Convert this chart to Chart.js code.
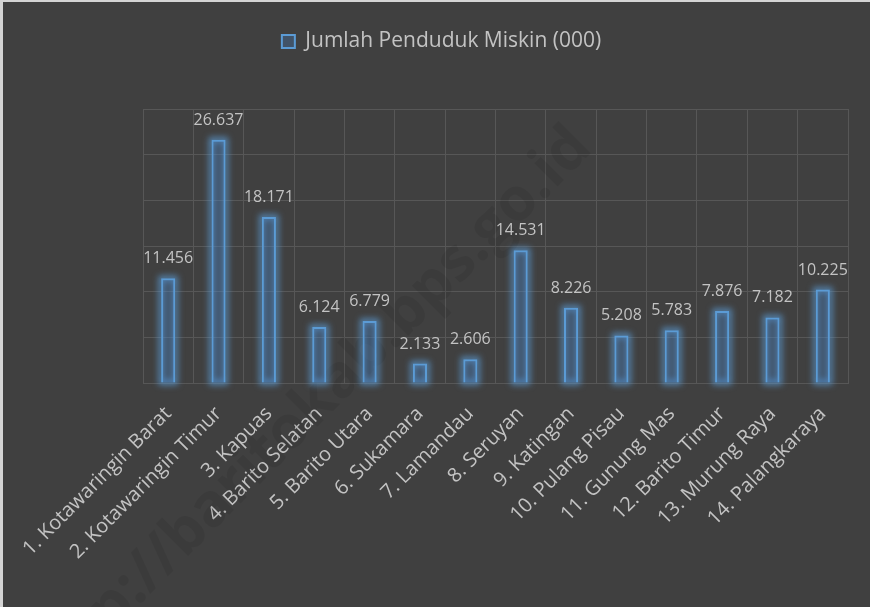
<!DOCTYPE html>
<html>
<head>
<meta charset="utf-8">
<script src="https://cdn.jsdelivr.net/npm/chart.js@4.4.1/dist/chart.umd.min.js"></script>
<style>
  html, body { margin: 0; padding: 0; background: #404040; }
  #wrap { width: 870px; height: 607px; position: relative; }
</style>
</head>
<body>
<div id="wrap"><canvas id="c" width="870" height="607"></canvas></div>
<script>
const categories = [
  "1. Kotawaringin Barat", "2. Kotawaringin Timur", "3. Kapuas", "4. Barito Selatan",
  "5. Barito Utara", "6. Sukamara", "7. Lamandau", "8. Seruyan", "9. Katingan",
  "10. Pulang Pisau", "11. Gunung Mas", "12. Barito Timur", "13. Murung Raya", "14. Palangkaraya"
];
const seriesName = "Jumlah Penduduk Miskin (000)";
const values = [11.456, 26.637, 18.171, 6.124, 6.779, 2.133, 2.606, 14.531, 8.226, 5.208, 5.783, 7.876, 7.182, 10.225];
const yTicks = [0, 5, 10, 15, 20, 25, 30];
const watermark = "http://baritokab.bps.go.id";

const FONT = "'Segoe UI', 'Open Sans', 'Noto Sans', sans-serif";
const TEXT = "#c3c3c3";
const GRID = "#575757";

const bgPlugin = {
  id: 'bg',
  beforeDraw(chart) {
    const ctx = chart.ctx;
    ctx.save();
    ctx.fillStyle = '#404040';
    ctx.fillRect(0, 0, chart.width, chart.height);
    ctx.fillStyle = '#d4d4d4';
    ctx.fillRect(0, 0, chart.width, 2);
    ctx.fillRect(0, 0, 3, chart.height);
    ctx.restore();
  }
};

const watermarkPlugin = {
  id: 'watermark',
  beforeDatasetsDraw(chart) {
    const ctx = chart.ctx;
    ctx.save();
    ctx.translate(594, 150);
    ctx.rotate(-Math.PI / 4);
    ctx.font = "bold 60px " + FONT;
    ctx.fillStyle = 'rgba(0,0,0,0.075)';
    ctx.textAlign = 'right';
    ctx.textBaseline = 'alphabetic';
    ctx.fillText(watermark, 0, 0);
    ctx.restore();
  }
};

const glowPlugin = {
  id: 'glow',
  beforeDatasetsDraw(chart) {
    const ctx = chart.ctx;
    const meta = chart.getDatasetMeta(0);
    ctx.save();
    ctx.filter = 'blur(3px)';
    ctx.strokeStyle = 'rgba(91,155,213,0.8)';
    ctx.lineWidth = 5;
    meta.data.forEach((el) => {
      const w = el.width;
      ctx.strokeRect(el.x - w / 2, el.y, w, el.base - el.y);
    });
    ctx.restore();
  }
};

const labelPlugin = {
  id: 'valueLabels',
  afterDatasetsDraw(chart) {
    const ctx = chart.ctx;
    const meta = chart.getDatasetMeta(0);
    ctx.save();
    ctx.font = "16px " + FONT;
    ctx.fillStyle = TEXT;
    ctx.textAlign = 'center';
    ctx.textBaseline = 'alphabetic';
    meta.data.forEach((el, i) => {
      ctx.fillText(values[i].toFixed(3), el.x, el.y - 15);
    });
    ctx.restore();
  }
};

new Chart(document.getElementById('c'), {
  type: 'bar',
  data: {
    labels: categories,
    datasets: [{
      label: seriesName,
      data: values,
      backgroundColor: 'rgba(70,130,200,0.30)',
      borderColor: '#5b9bd5',
      borderWidth: 2,
      barPercentage: 1.0,
      categoryPercentage: 0.28
    }]
  },
  options: {
    responsive: false,
    animation: false,
    devicePixelRatio: 1,
    layout: { padding: { top: 11, left: 35, right: 22, bottom: 0 } },
    plugins: {
      legend: {
        display: true,
        position: 'top',
        labels: {
          color: TEXT,
          font: { family: FONT, size: 21 },
          boxWidth: 13,
          boxHeight: 13,
          padding: 20
        }
      },
      title: {
        display: true,
        text: '',
        weight: 500,
        font: { size: 10 },
        padding: { top: 0, bottom: 35 }
      },
      tooltip: { enabled: false }
    },
    scales: {
      x: {
        grid: { color: GRID, lineWidth: 1, offset: true, drawTicks: false },
        border: { display: true, color: GRID, width: 1 },
        ticks: {
          color: TEXT,
          font: { family: FONT, size: 20 },
          maxRotation: 45,
          minRotation: 45,
          autoSkip: false,
          padding: 19
        },
        afterFit(scale) { scale.height = 224; }
      },
      y: {
        min: 0,
        max: 30,
        afterBuildTicks(scale) { scale.ticks = yTicks.map(v => ({ value: v })); },
        grid: { color: GRID, lineWidth: 1, drawTicks: false },
        border: { display: false },
        ticks: { display: false },
        afterFit(scale) { scale.width = 108; }
      }
    }
  },
  plugins: [bgPlugin, watermarkPlugin, glowPlugin, labelPlugin]
});
</script>
</body>
</html>
